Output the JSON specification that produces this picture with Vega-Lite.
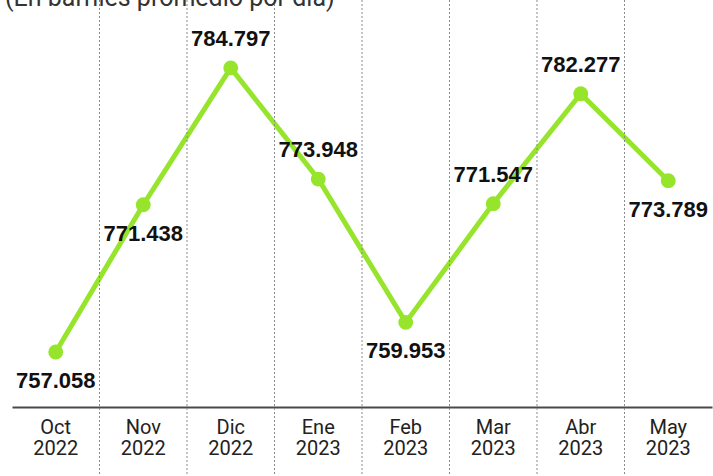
{
  "$schema": "https://vega.github.io/schema/vega-lite/v6.json",
  "width": 700,
  "height": 407,
  "autosize": {"type": "none"},
  "padding": {"left": 12, "top": 0, "right": 1, "bottom": 69},
  "background": "#ffffff",
  "config": {"view": {"stroke": null}},
  "data": {
    "values": [
      {"month": "Oct 2022", "value": 757.058, "label": "757.058", "pos": "below"},
      {"month": "Nov 2022", "value": 771.438, "label": "771.438", "pos": "below"},
      {"month": "Dic 2022", "value": 784.797, "label": "784.797", "pos": "above"},
      {"month": "Ene 2023", "value": 773.948, "label": "773.948", "pos": "above"},
      {"month": "Feb 2023", "value": 759.953, "label": "759.953", "pos": "below"},
      {"month": "Mar 2023", "value": 771.547, "label": "771.547", "pos": "above"},
      {"month": "Abr 2023", "value": 782.277, "label": "782.277", "pos": "above"},
      {"month": "May 2023", "value": 773.789, "label": "773.789", "pos": "below"}
    ]
  },
  "layer": [
    {
      "mark": {"type": "line", "color": "#97e42c", "strokeWidth": 5},
      "encoding": {
        "x": {
          "field": "month",
          "type": "nominal",
          "sort": null,
          "scale": {"paddingInner": 0, "paddingOuter": 0},
          "axis": {
            "title": null,
            "labelAngle": 0,
            "ticks": false,
            "grid": false,
            "domainColor": "#4a4a4a",
            "domainWidth": 2,
            "labelExpr": "split(datum.label, ' ')",
            "labelFont": "Roboto, sans-serif",
            "labelFontSize": 20,
            "labelLineHeight": 21,
            "labelColor": "#222222",
            "labelPadding": 10
          }
        },
        "y": {"field": "value", "type": "quantitative", "scale": {"domain": [751.69, 791.43], "nice": false, "zero": false}, "axis": null}
      }
    },
    {
      "transform": [{"filter": "datum.month != 'Oct 2022'"}],
      "mark": {"type": "rule", "color": "#8a8a8a", "strokeWidth": 1, "strokeDash": [2, 2]},
      "encoding": {
        "x": {"field": "month", "type": "nominal", "sort": null, "bandPosition": 0},
        "y": {"datum": 791.43, "type": "quantitative"},
        "y2": {"datum": 744.6}
      }
    },
    {
      "transform": [{"filter": "datum.month == 'Oct 2022'"}],
      "mark": {"type": "text", "text": "(En barriles promedio por día)", "align": "left", "baseline": "alphabetic", "dx": -7, "dy": 6, "font": "Roboto, sans-serif", "fontSize": 25, "color": "#333333"},
      "encoding": {
        "x": {"field": "month", "type": "nominal", "sort": null, "bandPosition": 0},
        "y": {"datum": 791.43, "type": "quantitative"}
      }
    },
    {
      "mark": {"type": "point", "filled": true, "opacity": 1, "color": "#97e42c", "size": 220},
      "encoding": {
        "x": {"field": "month", "type": "nominal", "sort": null},
        "y": {"field": "value", "type": "quantitative"}
      }
    },
    {
      "transform": [{"filter": "datum.pos == 'above'"}],
      "mark": {"type": "text", "font": "Liberation Sans", "fontWeight": "bold", "fontSize": 22, "color": "#111111", "baseline": "middle", "dy": -29},
      "encoding": {
        "x": {"field": "month", "type": "nominal", "sort": null},
        "y": {"field": "value", "type": "quantitative"},
        "text": {"field": "label"}
      }
    },
    {
      "transform": [{"filter": "datum.pos == 'below'"}],
      "mark": {"type": "text", "font": "Liberation Sans", "fontWeight": "bold", "fontSize": 22, "color": "#111111", "baseline": "middle", "dy": 29},
      "encoding": {
        "x": {"field": "month", "type": "nominal", "sort": null},
        "y": {"field": "value", "type": "quantitative"},
        "text": {"field": "label"}
      }
    }
  ]
}
